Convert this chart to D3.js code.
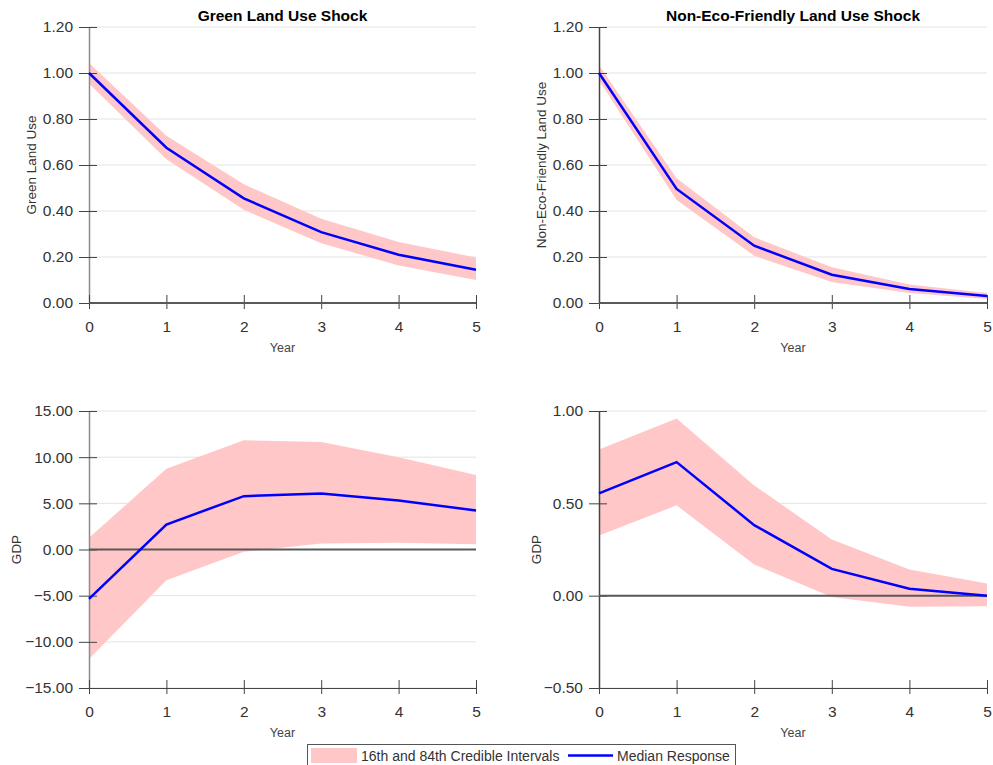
<!DOCTYPE html>
<html>
<head>
<meta charset="utf-8">
<script src="https://cdn.jsdelivr.net/npm/d3@7"></script>
<style>
  body { margin: 0; background: #fff; }
  svg { font-family: "Liberation Sans", Arial, sans-serif; }
</style>
</head>
<body>
<svg id="graphique" width="993" height="765"></svg>
<script>
// data
var years = [0, 1, 2, 3, 4, 5];

var greenMedian = [1.00, 0.675, 0.455, 0.308, 0.21, 0.145];
var greenUpper  = [1.044, 0.727, 0.516, 0.366, 0.265, 0.198];
var greenLower  = [0.954, 0.625, 0.405, 0.26, 0.163, 0.10];

var nonEcoMedian = [1.00, 0.496, 0.249, 0.123, 0.061, 0.03];
var nonEcoUpper  = [1.034, 0.542, 0.286, 0.155, 0.08, 0.043];
var nonEcoLower  = [0.969, 0.448, 0.205, 0.091, 0.043, 0.017];

var gdpGreenMedian = [-5.35, 2.71, 5.78, 6.07, 5.31, 4.23];
var gdpGreenUpper  = [1.26, 8.75, 11.82, 11.64, 10.0, 8.06];
var gdpGreenLower  = [-11.85, -3.32, -0.25, 0.65, 0.72, 0.58];

var gdpNonEcoMedian = [0.554, 0.723, 0.382, 0.145, 0.037, 0.0];
var gdpNonEcoUpper  = [0.792, 0.96, 0.597, 0.304, 0.142, 0.066];
var gdpNonEcoLower  = [0.326, 0.489, 0.169, -0.007, -0.06, -0.057];

var ticksLandUse = [0, 0.2, 0.4, 0.6, 0.8, 1.0, 1.2];
var ticksGdpGreen = [-15, -10, -5, 0, 5, 10, 15];
var ticksGdpNonEco = [-0.5, 0, 0.5, 1.0];

var titles = ["Green Land Use Shock", "Non-Eco-Friendly Land Use Shock"];
var legendLabels = ["16th and 84th Credible Intervals", "Median Response"];

// panel layout
var panels = [
  { left: 89, right: 476, top: 27, bottom: 303, ylab: "Green Land Use", ylabX: 32, axisColor: "#8c8c8c",
    median: greenMedian, upper: greenUpper, lower: greenLower, ticks: ticksLandUse, title: titles[0] },
  { left: 599, right: 987, top: 27, bottom: 303, ylab: "Non-Eco-Friendly Land Use", ylabX: 542, axisColor: "#444",
    median: nonEcoMedian, upper: nonEcoUpper, lower: nonEcoLower, ticks: ticksLandUse, title: titles[1] },
  { left: 89, right: 476, top: 411, bottom: 688, ylab: "GDP", ylabX: 17, axisColor: "#8c8c8c",
    median: gdpGreenMedian, upper: gdpGreenUpper, lower: gdpGreenLower, ticks: ticksGdpGreen },
  { left: 599, right: 987, top: 411, bottom: 688, ylab: "GDP", ylabX: 537, axisColor: "#444",
    median: gdpNonEcoMedian, upper: gdpNonEcoUpper, lower: gdpNonEcoLower, ticks: ticksGdpNonEco }
];

var BAND = "#ffc7c7";
var LINE = "#0000ff";
var TEXT = "#333";

var graphique = d3.select("#graphique");

panels.forEach(function(p){
  var g = graphique.append("g");
  var ticks = p.ticks;
  var xScale = d3.scaleLinear().domain([0, 5]).range([p.left, p.right]);
  var yScale = d3.scaleLinear().domain([ticks[0], ticks[ticks.length - 1]]).range([p.bottom, p.top]);

  // gridlines
  g.selectAll(".grid").data(ticks).enter().append("line")
    .attr("x1", p.left).attr("x2", p.right)
    .attr("y1", function(d){ return yScale(d); })
    .attr("y2", function(d){ return yScale(d); })
    .attr("stroke", "#e3e3e3").attr("stroke-width", 1);

  // band
  var area = d3.area()
    .x(function(d, i){ return xScale(years[i]); })
    .y0(function(d, i){ return yScale(p.lower[i]); })
    .y1(function(d, i){ return yScale(p.upper[i]); });
  g.append("path").attr("d", area(years)).attr("fill", BAND).attr("stroke", "none");

  // y axis
  var yAxis = d3.axisLeft(yScale).tickValues(ticks).tickSizeInner(10).tickSizeOuter(0).tickPadding(6)
    .tickFormat(d3.format(".2f"));
  var ya = g.append("g").attr("transform", "translate(" + p.left + ",0)").call(yAxis);
  ya.select(".domain").attr("stroke", p.axisColor).attr("stroke-width", 1.5);
  ya.selectAll(".tick line").attr("x1", 8).attr("stroke", "#444");
  ya.selectAll(".tick text").attr("font-size", 15.5).attr("fill", TEXT)
    .attr("font-family", "Liberation Sans, Arial, sans-serif");

  // x axis at bottom
  var xAxis = d3.axisBottom(xScale).tickValues(years).tickSizeInner(6).tickSizeOuter(0).tickPadding(12)
    .tickFormat(d3.format("d"));
  var xa = g.append("g").attr("transform", "translate(0," + p.bottom + ")").call(xAxis);
  xa.select(".domain").attr("stroke", "#444");
  xa.selectAll(".tick line").attr("y1", -8).attr("stroke", "#444");
  xa.selectAll(".tick text").attr("font-size", 15.5).attr("fill", TEXT)
    .attr("font-family", "Liberation Sans, Arial, sans-serif");

  // zero line
  g.append("line")
    .attr("x1", p.left).attr("x2", p.right)
    .attr("y1", yScale(0)).attr("y2", yScale(0))
    .attr("stroke", "#595959").attr("stroke-width", 2);

  // median line
  var line = d3.line()
    .x(function(d, i){ return xScale(years[i]); })
    .y(function(d){ return yScale(d); });
  g.append("path").attr("d", line(p.median))
    .attr("fill", "none").attr("stroke", LINE).attr("stroke-width", 2.5);

  // axis titles
  g.append("text")
    .attr("x", (p.left + p.right) / 2).attr("y", p.bottom + 49)
    .attr("text-anchor", "middle").attr("font-size", 12.5).attr("fill", "#444")
    .text("Year");

  g.append("text")
    .attr("transform", "translate(" + p.ylabX + "," + ((p.top + p.bottom) / 2) + ") rotate(-90)")
    .attr("text-anchor", "middle").attr("dominant-baseline", "middle")
    .attr("font-size", 13.5).attr("fill", TEXT)
    .text(p.ylab);

  if(p.title){
    g.append("text")
      .attr("x", (p.left + p.right) / 2).attr("y", 21)
      .attr("text-anchor", "middle").attr("font-size", 15.5).attr("font-weight", "bold")
      .attr("fill", "#000")
      .text(p.title);
  }
});

// legend
var legende = graphique.append("g");
legende.append("rect").attr("x", 307.5).attr("y", 744.5).attr("width", 428).attr("height", 30)
  .attr("fill", "#fff").attr("stroke", "#555").attr("stroke-width", 1);
legende.append("rect").attr("x", 311).attr("y", 748).attr("width", 46).attr("height", 15).attr("fill", BAND);
legende.append("text").attr("x", 361).attr("y", 760.5).attr("font-size", 14).attr("fill", TEXT)
  .text(legendLabels[0]);
legende.append("line").attr("x1", 568).attr("x2", 613).attr("y1", 755.5).attr("y2", 755.5)
  .attr("stroke", LINE).attr("stroke-width", 2.5);
legende.append("text").attr("x", 617).attr("y", 760.5).attr("font-size", 14).attr("fill", TEXT)
  .text(legendLabels[1]);
</script>
</body>
</html>
